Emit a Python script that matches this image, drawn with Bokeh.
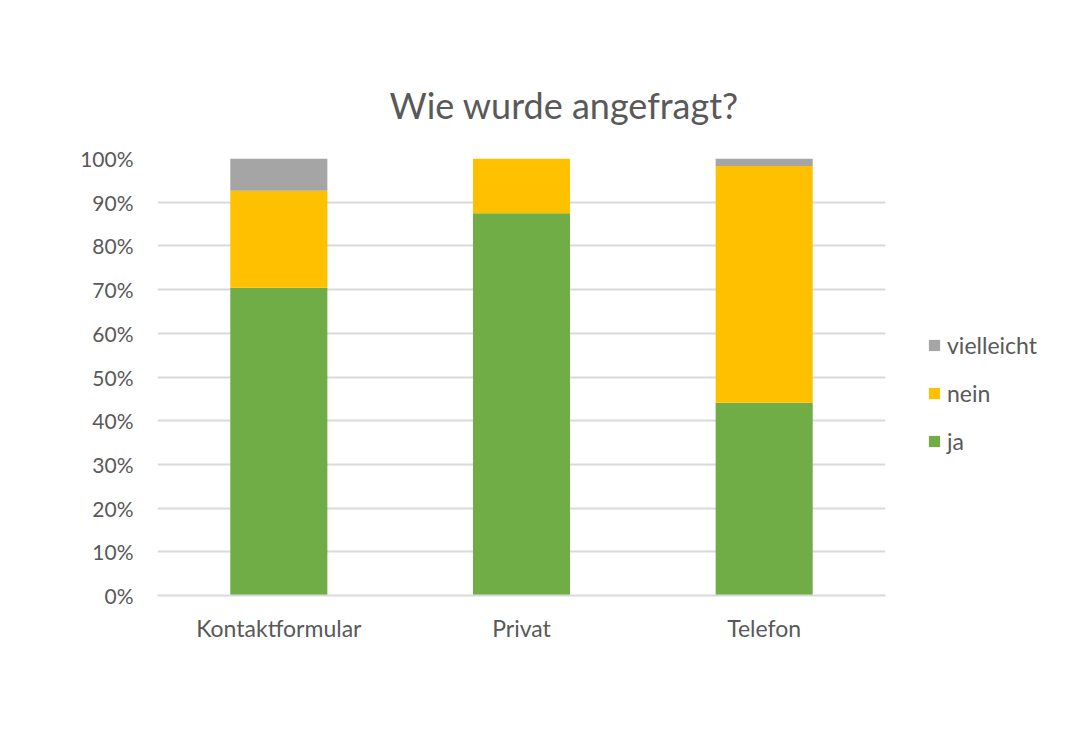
from bokeh.plotting import figure
from bokeh.models import (ColumnDataSource, FactorRange, Range1d, FixedTicker,
                          NumeralTickFormatter, Legend, LegendItem, Title)
from bokeh.embed import file_html
from bokeh.resources import INLINE

# data (shares of answers per channel)
categories = ["Kontaktformular", "Privat", "Telefon"]
ja = [0.704, 0.875, 0.441]
nein = [0.222, 0.125, 0.542]
vielleicht = [0.074, 0.0, 0.017]
series = ["ja", "nein", "vielleicht"]
colors = ["#70AD47", "#FFC000", "#A5A5A5"]
y_ticks = [0.0, 0.1, 0.2, 0.3, 0.4, 0.5, 0.6, 0.7, 0.8, 0.9, 1.0]

FONT = "Lato"
TEXT = "#595959"

source = ColumnDataSource(data=dict(cat=categories, ja=ja, nein=nein,
                                    vielleicht=vielleicht))

p = figure(
    x_range=FactorRange(*categories, range_padding=0),
    y_range=Range1d(0, 1),
    frame_width=728,
    frame_height=437,
    min_border_left=157,
    min_border_right=190,
    min_border_top=158,
    min_border_bottom=125,
    toolbar_location=None,
    tools="",
    output_backend="svg",
)

renderers = p.vbar_stack(series, x="cat", width=0.4, color=colors,
                         line_color=None, source=source)

# legend right of the plot area, top item first
items = [LegendItem(label=s, renderers=[r]) for s, r in zip(series, renderers)]
legend = Legend(items=items[::-1], location=(42, 140))
legend.glyph_width = 14
legend.glyph_height = 14
legend.label_height = 20
legend.spacing = 20
legend.padding = 0
legend.margin = 0
legend.label_standoff = 6
legend.label_text_font = FONT
legend.label_text_font_size = "23px"
legend.label_text_color = TEXT
legend.border_line_color = None
legend.background_fill_alpha = 0
p.add_layout(legend, "right")

title = Title(text="Wie wurde angefragt?", align="left", offset=232,
              text_font=FONT, text_font_size="36px", text_font_style="normal",
              text_color=TEXT, standoff=64)
p.add_layout(title, "above")

p.yaxis.ticker = FixedTicker(ticks=y_ticks)
p.yaxis.formatter = NumeralTickFormatter(format="0%")
p.ygrid.ticker = FixedTicker(ticks=y_ticks)
p.ygrid.grid_line_color = "#D9D9D9"
p.ygrid.grid_line_width = 2
p.xgrid.grid_line_color = None

for ax in (p.xaxis, p.yaxis):
    ax.major_label_text_font = FONT
    ax.major_label_text_color = TEXT
    ax.major_tick_line_color = None
    ax.minor_tick_line_color = None
p.yaxis.major_label_text_font_size = "21px"
p.xaxis.major_label_text_font_size = "23px"
p.yaxis.axis_line_color = None
p.yaxis.major_label_standoff = 18
p.xaxis.axis_line_color = "#D9D9D9"
p.xaxis.axis_line_width = 2
p.xaxis.major_label_standoff = 12
p.outline_line_color = None

open("out.html", "w").write(file_html(p, INLINE))
